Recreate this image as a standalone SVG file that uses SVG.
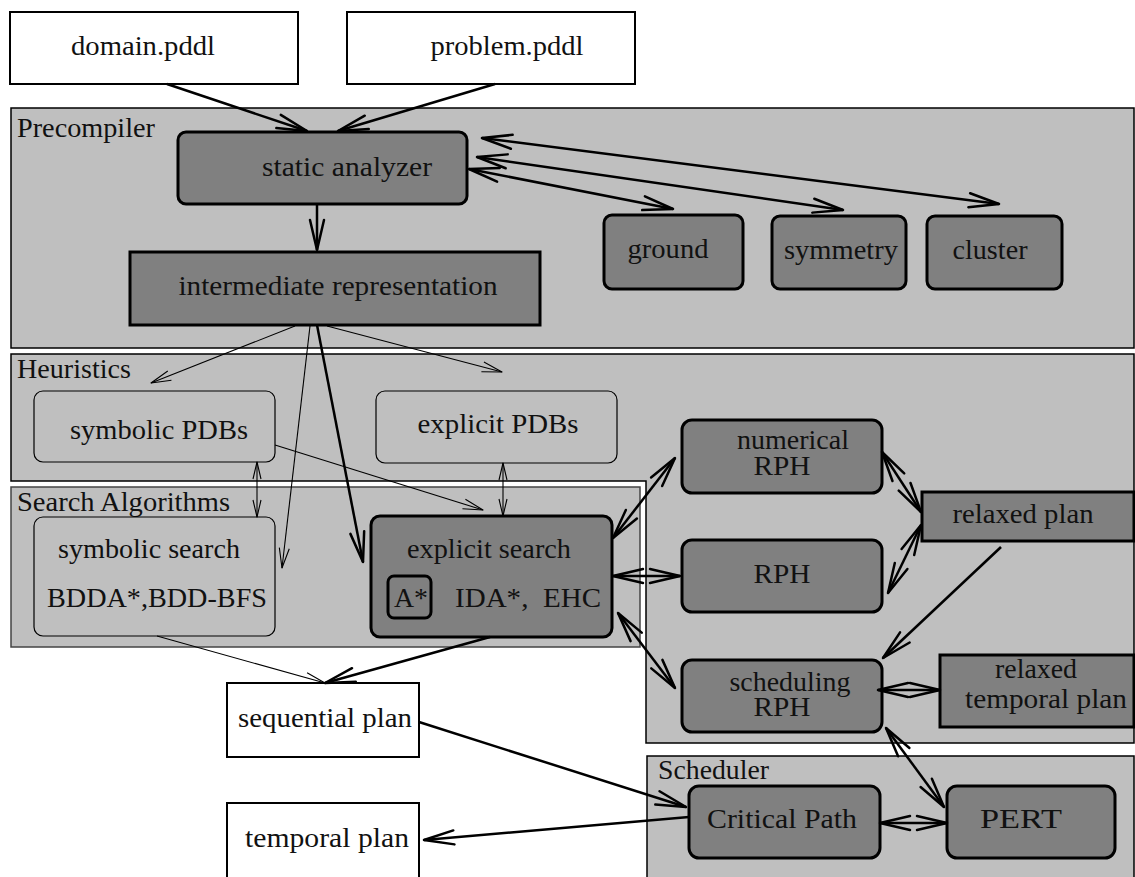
<svg xmlns="http://www.w3.org/2000/svg" width="1135" height="877" viewBox="0 0 1135 877">
<style>
.panel{fill:#bfbfbf;stroke:#000;stroke-width:1.5}
.spanel{fill:#bfbfbf;stroke:#444;stroke-width:1.5}
.dark{fill:#808080;stroke:#000;stroke-width:3}
.light{fill:#bfbfbf;stroke:#000;stroke-width:1.2}
.white{fill:#fff;stroke:#000;stroke-width:2}
text{font-size:28px;fill:#111}
.c{text-anchor:middle}
.thick{stroke:#000;stroke-width:2.5;fill:none}
.thin{stroke:#000;stroke-width:1.1;fill:none}
</style>
<defs>
<marker id="ah" markerUnits="userSpaceOnUse" orient="auto-start-reverse" overflow="visible" markerWidth="1" markerHeight="1" refX="0" refY="0">
<path d="M-30,-7 L0,0 L-30,7" fill="none" stroke="#000" stroke-width="2.5" stroke-linejoin="round" stroke-linecap="round"/>
</marker>
<marker id="at" markerUnits="userSpaceOnUse" orient="auto-start-reverse" overflow="visible" markerWidth="1" markerHeight="1" refX="0" refY="0">
<path d="M-20,-5 L0,0 L-20,5" fill="none" stroke="#000" stroke-width="1.1" stroke-linejoin="round"/>
</marker>
<marker id="an" markerUnits="userSpaceOnUse" orient="auto-start-reverse" overflow="visible" markerWidth="1" markerHeight="1" refX="0" refY="0">
<path d="M-17,-4 L0,0 L-17,4" fill="none" stroke="#000" stroke-width="1.1" stroke-linejoin="round"/>
</marker>
</defs>
<rect width="1135" height="877" fill="#fff"/>
<g font-family="'Liberation Serif', 'DejaVu Serif', 'Times New Roman', serif">
<g id="panels">
<g id="precompiler">
<rect class="panel" x="11" y="108" width="1123" height="240"/>
<text x="17" y="137" textLength="138" lengthAdjust="spacingAndGlyphs">Precompiler</text>
</g>
<g id="heuristics">
<path class="panel" d="M11,354 H1134 V743 H646 V481 H11 Z"/>
<text x="17" y="378" textLength="114" lengthAdjust="spacingAndGlyphs">Heuristics</text>
</g>
<g id="search-algorithms">
<rect class="spanel" x="11" y="487" width="629" height="160"/>
<text x="17" y="511" textLength="213" lengthAdjust="spacingAndGlyphs">Search Algorithms</text>
</g>
<g id="scheduler">
<rect class="panel" x="647" y="756" width="487" height="125"/>
<text x="658" y="779" textLength="111" lengthAdjust="spacingAndGlyphs">Scheduler</text>
</g>
</g>

<g id="domain">
<rect class="white" x="10" y="12" width="288" height="72"/>
<text class="c" x="143" y="55" textLength="144" lengthAdjust="spacingAndGlyphs">domain.pddl</text>
</g>
<g id="problem">
<rect class="white" x="347" y="12" width="288" height="72"/>
<text class="c" x="507" y="55" textLength="153" lengthAdjust="spacingAndGlyphs">problem.pddl</text>
</g>
<g id="static-analyzer">
<rect class="dark" x="178" y="132" width="289" height="72" rx="8"/>
<text class="c" x="347" y="176" textLength="170" lengthAdjust="spacingAndGlyphs">static analyzer</text>
</g>
<g id="intermediate">
<rect class="dark" x="130" y="252" width="410" height="73"/>
<text class="c" x="338" y="295" textLength="319" lengthAdjust="spacingAndGlyphs">intermediate representation</text>
</g>
<g id="ground">
<rect class="dark" x="604" y="215" width="139" height="74" rx="8"/>
<text class="c" x="668" y="258" textLength="81" lengthAdjust="spacingAndGlyphs">ground</text>
</g>
<g id="symmetry">
<rect class="dark" x="772" y="216" width="134" height="73" rx="8"/>
<text class="c" x="841" y="259" textLength="114" lengthAdjust="spacingAndGlyphs">symmetry</text>
</g>
<g id="cluster">
<rect class="dark" x="927" y="216" width="135" height="73" rx="8"/>
<text class="c" x="990" y="259" textLength="75" lengthAdjust="spacingAndGlyphs">cluster</text>
</g>
<g id="symbolic-pdbs">
<rect class="light" x="34" y="391" width="241" height="71" rx="9"/>
<text class="c" x="159" y="439" textLength="178" lengthAdjust="spacingAndGlyphs">symbolic PDBs</text>
</g>
<g id="explicit-pdbs">
<rect class="light" x="376" y="391" width="241" height="72" rx="9"/>
<text class="c" x="498" y="433" textLength="161" lengthAdjust="spacingAndGlyphs">explicit PDBs</text>
</g>
<g id="symbolic-search">
<rect class="light" x="34" y="517" width="241" height="119" rx="9"/>
<text class="c" x="149" y="558" textLength="182" lengthAdjust="spacingAndGlyphs">symbolic search</text>
<text class="c" x="157" y="607" textLength="220" lengthAdjust="spacingAndGlyphs">BDDA*,BDD-BFS</text>
</g>
<g id="explicit-search">
<rect class="dark" x="371" y="516" width="241" height="121" rx="9"/>
<text class="c" x="489" y="558" textLength="164" lengthAdjust="spacingAndGlyphs">explicit search</text>
<rect class="dark" x="388" y="576" width="43" height="42" rx="6"/>
<text class="c" x="411" y="607" textLength="34" lengthAdjust="spacingAndGlyphs">A*</text>
<text x="455" y="607" textLength="146" lengthAdjust="spacingAndGlyphs" xml:space="preserve">IDA*,  EHC</text>
</g>
<g id="numerical-rph">
<rect class="dark" x="682" y="420" width="200" height="73" rx="10"/>
<text class="c" x="793" y="449" textLength="112" lengthAdjust="spacingAndGlyphs">numerical</text>
<text class="c" x="782" y="475" textLength="57" lengthAdjust="spacingAndGlyphs">RPH</text>
</g>
<g id="rph">
<rect class="dark" x="682" y="540" width="200" height="72" rx="10"/>
<text class="c" x="782" y="583" textLength="57" lengthAdjust="spacingAndGlyphs">RPH</text>
</g>
<g id="scheduling-rph">
<rect class="dark" x="682" y="660" width="200" height="72" rx="10"/>
<text class="c" x="790" y="691" textLength="121" lengthAdjust="spacingAndGlyphs">scheduling</text>
<text class="c" x="782" y="716" textLength="57" lengthAdjust="spacingAndGlyphs">RPH</text>
</g>
<g id="relaxed-plan">
<rect class="dark" x="922" y="492" width="212" height="49"/>
<text class="c" x="1023" y="523" textLength="141" lengthAdjust="spacingAndGlyphs">relaxed plan</text>
</g>
<g id="relaxed-temporal-plan">
<rect class="dark" x="940" y="655" width="194" height="72"/>
<text class="c" x="1036" y="678" textLength="82" lengthAdjust="spacingAndGlyphs">relaxed</text>
<text class="c" x="1046" y="708" textLength="162" lengthAdjust="spacingAndGlyphs">temporal plan</text>
</g>
<g id="sequential-plan">
<rect class="white" x="227" y="683" width="192" height="74"/>
<text class="c" x="325" y="727" textLength="174" lengthAdjust="spacingAndGlyphs">sequential plan</text>
</g>
<g id="temporal-plan">
<rect class="white" x="227" y="803" width="192" height="80"/>
<text class="c" x="327" y="847" textLength="164" lengthAdjust="spacingAndGlyphs">temporal plan</text>
</g>
<g id="critical-path">
<rect class="dark" x="689" y="786" width="191" height="72" rx="10"/>
<text class="c" x="782" y="828" textLength="150" lengthAdjust="spacingAndGlyphs">Critical Path</text>
</g>
<g id="pert">
<rect class="dark" x="947" y="786" width="168" height="72" rx="10"/>
<text class="c" x="1021" y="828" textLength="82" lengthAdjust="spacingAndGlyphs">PERT</text>
</g>
</g>
<g id="connectors">
<line class="thick" x1="167" y1="84" x2="307" y2="131" marker-end="url(#ah)"/>
<line class="thick" x1="495" y1="84" x2="338" y2="131" marker-end="url(#ah)"/>
<line class="thick" x1="469" y1="169" x2="673" y2="209" marker-start="url(#ah)" marker-end="url(#ah)"/>
<line class="thick" x1="477" y1="157" x2="843" y2="210" marker-start="url(#ah)" marker-end="url(#ah)"/>
<line class="thick" x1="482" y1="138" x2="999" y2="204" marker-start="url(#ah)" marker-end="url(#ah)"/>
<line class="thick" x1="317" y1="204" x2="317" y2="250" marker-end="url(#ah)"/>
<line class="thick" x1="317" y1="325" x2="363" y2="562" marker-end="url(#ah)"/>
<line class="thick" x1="613" y1="538" x2="675" y2="458" marker-start="url(#ah)" marker-end="url(#ah)"/>
<line class="thick" x1="613" y1="576" x2="680" y2="576" marker-start="url(#ah)" marker-end="url(#ah)"/>
<line class="thick" x1="618" y1="613" x2="675" y2="688" marker-start="url(#ah)" marker-end="url(#ah)"/>
<line class="thick" x1="490" y1="637" x2="325" y2="683" marker-end="url(#ah)"/>
<line class="thick" x1="882" y1="452" x2="921" y2="512" marker-start="url(#ah)" marker-end="url(#ah)"/>
<line class="thick" x1="921" y1="525" x2="888" y2="593" marker-start="url(#ah)" marker-end="url(#ah)"/>
<line class="thick" x1="1001" y1="547" x2="883" y2="658" marker-end="url(#ah)"/>
<line class="thick" x1="878" y1="690" x2="940" y2="690" marker-start="url(#ah)" marker-end="url(#ah)"/>
<line class="thick" x1="886" y1="728" x2="944" y2="807" marker-start="url(#ah)" marker-end="url(#ah)"/>
<line class="thick" x1="419" y1="722" x2="686" y2="807" marker-end="url(#ah)"/>
<line class="thick" x1="689" y1="817" x2="424" y2="840" marker-end="url(#ah)"/>
<line class="thick" x1="880" y1="823" x2="947" y2="823" marker-start="url(#ah)" marker-end="url(#ah)"/>
<line class="thin" x1="295" y1="326" x2="151" y2="383" marker-end="url(#at)"/>
<line class="thin" x1="327" y1="326" x2="502" y2="372" marker-end="url(#at)"/>
<line class="thin" x1="310" y1="326" x2="282" y2="568" marker-end="url(#at)"/>
<line class="thin" x1="257" y1="462" x2="257" y2="517" marker-start="url(#an)" marker-end="url(#an)"/>
<line class="thin" x1="503" y1="463" x2="503" y2="516" marker-start="url(#an)" marker-end="url(#an)"/>
<line class="thin" x1="275" y1="445" x2="483" y2="510" marker-end="url(#at)"/>
<line class="thin" x1="157" y1="636" x2="325" y2="683" marker-end="url(#at)"/>
</g>
</svg>
